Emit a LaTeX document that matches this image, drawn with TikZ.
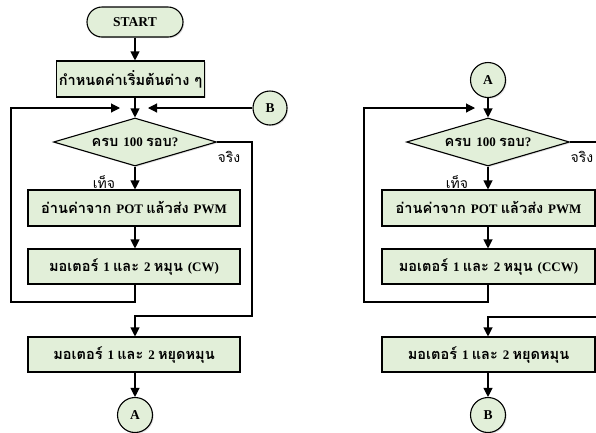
\documentclass[tikz,border=0pt]{standalone}
\usepackage{fontspec}
\setmainfont{Liberation Serif}
\newfontfamily\thai[Script=Thai,Scale=1.12]{Loma}
\usetikzlibrary{shapes.geometric,shapes.misc,arrows.meta,shadows}
\definecolor{boxfill}{HTML}{E2EFD9}
\tikzset{
  base/.style={draw=black, line width=1.1pt, fill=boxfill, inner sep=0pt,
    drop shadow={shadow xshift=1.2pt, shadow yshift=-1.2pt, opacity=0.25}},
  procbox/.style={base, rectangle, minimum width=212pt, minimum height=35pt, font=\bfseries\fontsize{13}{15}\selectfont},
  termbox/.style={base, rounded rectangle, minimum width=96pt, minimum height=30pt, font=\bfseries\fontsize{13.5}{15}\selectfont},
  decbox/.style={base, diamond, aspect=3.4, minimum width=163pt, minimum height=48pt, font=\bfseries\fontsize{13}{15}\selectfont},
  conn/.style={base, circle, minimum size=35pt, font=\bfseries\fontsize{13.5}{15}\selectfont},
  flow/.style={line width=1.1pt, -{Triangle[length=9pt,width=9pt]}},
  plain/.style={line width=1.1pt},
  lbl/.style={font=\thai\fontsize{12.5}{14}\selectfont, inner sep=0pt}
}
\begin{document}
\begin{tikzpicture}[x=1pt,y=-1pt]
\useasboundingbox (0,0) rectangle (596,432);
\clip (0,0) rectangle (596,432);
% ---------- left chart ----------
\node[termbox] (start) at (135,22) {START};
\node[procbox, minimum width=148pt, minimum height=36pt] (init) at (130.5,79) {\thai กำหนดค่าเริ่มต้นต่าง ๆ};
\coordinate (m) at (135,108);
\node[decbox] (d) at (135,142) {\thai ครบ \rmfamily 100 \thai รอบ\rmfamily ?};
\node[procbox, minimum height=36pt] (read) at (134,208) {\thai อ่านค่าจาก \rmfamily POT \thai แล้วส่ง \rmfamily PWM};
\node[procbox] (cw) at (134,266.5) {\thai มอเตอร์ \rmfamily 1 \thai และ \rmfamily 2 \thai หมุน \rmfamily (CW)};
\node[procbox] (stop) at (134,354.5) {\thai มอเตอร์ \rmfamily 1 \thai และ \rmfamily 2 \thai หยุดหมุน};
\node[conn] (A) at (135,415) {A};
\node[conn, minimum size=34pt] (B) at (270,108) {B};
\coordinate (lb) at (11,302);
\coordinate (rt) at (252,316);
\coordinate (mL) at (120,108);
\coordinate (mR) at (148,108);

\draw[flow] (start.south) -- (start.south |- init.north);
\draw[flow] (m |- init.south) -- (d.north);
\draw[flow] (cw.south -| m) -- (lb -| m) -- (lb) -- (lb |- m) -- (mL);
\draw[flow] (B.west) -- (mR);
\draw[flow] (d.south) -- (d.south |- read.north);
\draw[flow] (read.south -| m) -- (cw.north -| m);
\draw[flow] (d.east) -- (d.east -| rt) -- (rt) -- (rt -| m) -- (stop.north -| m);
\draw[flow] (stop.south -| m) -- (A.north);
\node[lbl] (f1) at (104,182) {เท็จ};
\node[lbl] (t1) at (229,157) {จริง};

% ---------- right chart ----------
\node[conn] (A2) at (488,80) {A};
\coordinate (m2) at (488,108);
\node[decbox] (d2) at (488,142) {\thai ครบ \rmfamily 100 \thai รอบ\rmfamily ?};
\node[procbox, minimum width=213pt, minimum height=36pt] (read2) at (488.5,208) {\thai อ่านค่าจาก \rmfamily POT \thai แล้วส่ง \rmfamily PWM};
\node[procbox, minimum width=213pt] (ccw2) at (488.5,266.5) {\thai มอเตอร์ \rmfamily 1 \thai และ \rmfamily 2 \thai หมุน \rmfamily (CCW)};
\node[procbox, minimum width=213pt] (stop2) at (488.5,354.5) {\thai มอเตอร์ \rmfamily 1 \thai และ \rmfamily 2 \thai หยุดหมุน};
\node[conn] (B2) at (488,415) {B};
\coordinate (lb2) at (364,302);
\coordinate (rt2) at (605,317);
\coordinate (mL2) at (475,108);

\draw[flow] (A2.south) -- (d2.north);
\draw[flow] (ccw2.south -| m2) -- (lb2 -| m2) -- (lb2) -- (lb2 |- m2) -- (mL2);
\draw[flow] (d2.south) -- (d2.south |- read2.north);
\draw[flow] (read2.south -| m2) -- (ccw2.north -| m2);
\draw[plain] (d2.east) -- (d2.east -| rt2) -- (rt2);
\draw[flow] (rt2) -- (rt2 -| m2) -- (stop2.north -| m2);
\draw[flow] (stop2.south -| m2) -- (B2.north);
\node[lbl] (f2) at (457,182) {เท็จ};
\node[lbl] (t2) at (582,157) {จริง};
\end{tikzpicture}
\end{document}
